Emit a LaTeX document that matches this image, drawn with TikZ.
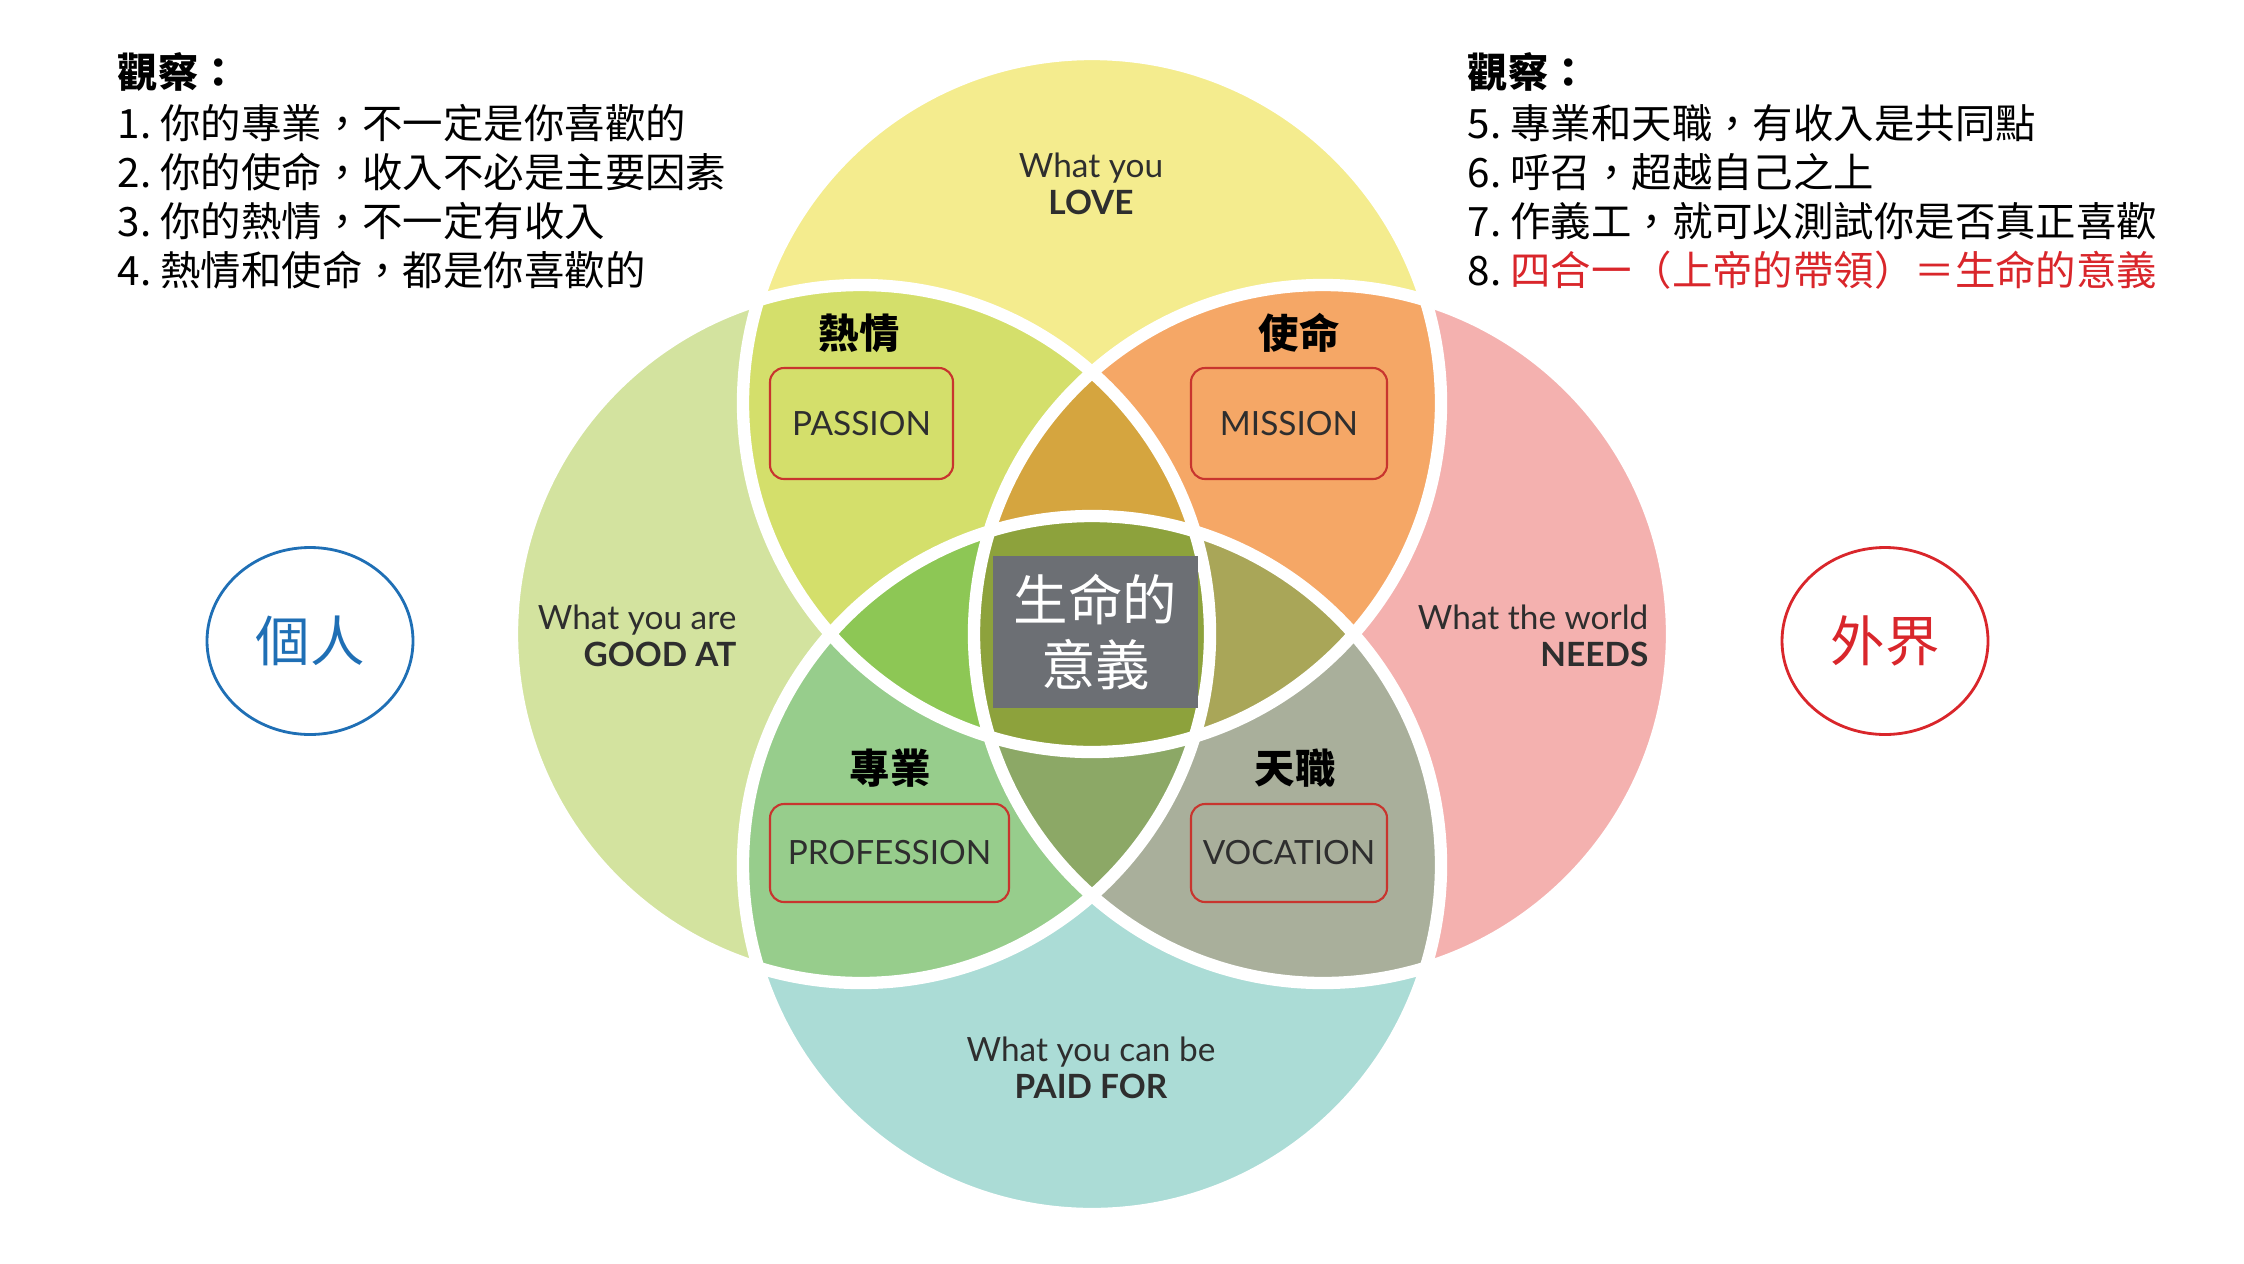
\documentclass[tikz,border=0pt]{standalone}
\usepackage{xcolor}
\usepackage{fontspec}
\usepackage{tikz}
\usetikzlibrary{
  shapes.geometric,
  positioning
}
\setmainfont{Lato}
\newfontfamily\cjk{Noto Sans CJK TC}

\definecolor{ikLove}{HTML}{F4EC8E}
\definecolor{ikGood}{HTML}{D3E39F}
\definecolor{ikNeeds}{HTML}{F4B1AF}
\definecolor{ikPaid}{HTML}{ABDCD6}
\definecolor{ikPassion}{HTML}{D4DF6B}
\definecolor{ikMission}{HTML}{F5A766}
\definecolor{ikProf}{HTML}{97CD8C}
\definecolor{ikVoc}{HTML}{A9AF9B}
\definecolor{ikTopMid}{HTML}{D5A53F}
\definecolor{ikLeftMid}{HTML}{8DC755}
\definecolor{ikRightMid}{HTML}{A9A658}
\definecolor{ikBotMid}{HTML}{8CA866}
\definecolor{ikCore}{HTML}{8DA23C}
\definecolor{ikSlate}{HTML}{6C6F74}
\definecolor{ikInk}{HTML}{2E2E2E}
\definecolor{ikBoxRed}{HTML}{C8352E}
\definecolor{obsRed}{HTML}{D9262B}
\definecolor{selfBlue}{HTML}{1F6FB5}

\tikzset{
  rimline/.style={white, line width=3.5pt},
  circlabel/.style={inner sep=0pt, text=ikInk, font=\fontsize{9.5}{10.5}\selectfont},
  tagbox/.style={draw=ikBoxRed, line width=0.6pt, rounded corners=4pt, inner sep=0pt,
    text=ikInk, font=\fontsize{9.5}{11}\selectfont},
  taghead/.style={inner sep=0pt, font=\cjk\bfseries\fontsize{11.5}{13}\selectfont},
  obsline/.style={anchor=west, inner sep=0pt, font=\cjk\fontsize{11.5}{14}\selectfont},
  obshead/.style={obsline, font=\cjk\bfseries\fontsize{11.5}{14}\selectfont},
  sidering/.style={ellipse, draw, line width=0.8pt, inner sep=0pt,
    minimum width=20.6mm, minimum height=18.7mm, font=\cjk\fontsize{15.5}{18}\selectfont}
}

\begin{document}
\begin{tikzpicture}[x=0.1mm, y=-0.1mm]
  \useasboundingbox (0,0) rectangle (2244,1263);
  \def\R{349}
  \coordinate (cT) at (1092,403);
  \coordinate (cL) at (861,634);
  \coordinate (cR) at (1323,634);
  \coordinate (cB) at (1092,865);

  % the four circles
  \foreach \cc/\col in {cT/ikLove, cL/ikGood, cR/ikNeeds, cB/ikPaid}
    \fill[\col] (\cc) circle[radius=\R];
  % two-way overlaps
  \foreach \a/\b/\col in {cT/cL/ikPassion, cT/cR/ikMission, cL/cB/ikProf, cR/cB/ikVoc}{
    \begin{scope}
      \clip (\a) circle[radius=\R];
      \fill[\col] (\b) circle[radius=\R];
    \end{scope}
  }
  % three-way overlaps
  \foreach \a/\b/\cc/\col in {cT/cL/cR/ikTopMid, cT/cL/cB/ikLeftMid, cT/cR/cB/ikRightMid, cL/cR/cB/ikBotMid}{
    \begin{scope}
      \clip (\a) circle[radius=\R];
      \clip (\b) circle[radius=\R];
      \fill[\col] (\cc) circle[radius=\R];
    \end{scope}
  }
  % centre
  \begin{scope}
    \clip (cT) circle[radius=\R];
    \clip (cL) circle[radius=\R];
    \clip (cR) circle[radius=\R];
    \fill[ikCore] (cB) circle[radius=\R];
  \end{scope}
  \foreach \cc in {cT,cL,cR,cB}
    \draw[rimline] (\cc) circle[radius=\R];

  % circle labels
  \node[circlabel, align=center] (love) at (1091,184) {What you\\\textbf{LOVE}};
  \node[circlabel, align=right, anchor=east] (good) at (737,636) {What you are\\\textbf{GOOD AT}};
  \node[circlabel, align=right, anchor=east] (needs) at (1649,636) {What the world\\\textbf{NEEDS}};
  \node[circlabel, align=center] (paid) at (1091,1068) {What you can be\\\textbf{PAID FOR}};

  % overlap tags
  \node[tagbox, minimum width=18.3mm, minimum height=11.1mm] (passion) at (861.5,423.5) {PASSION};
  \node[tagbox, minimum width=19.6mm, minimum height=11.1mm] (mission) at (1289,423.5) {MISSION};
  \node[tagbox, minimum width=23.9mm, minimum height=9.8mm] (profession) at (889.5,853) {PROFESSION};
  \node[tagbox, minimum width=19.6mm, minimum height=9.8mm] (vocation) at (1289,853) {VOCATION};
  \node[taghead] (passionZh) at (859,333) {熱情};
  \node[taghead] (missionZh) at (1299,333) {使命};
  \node[taghead] (professionZh) at (890,768) {專業};
  \node[taghead] (vocationZh) at (1295,768) {天職};

  % centre
  \node[fill=ikSlate, text=white, inner sep=0pt, minimum width=20.5mm, minimum height=15.2mm,
    align=center, font=\cjk\fontsize{15.5}{18.5}\selectfont] (core) at (1095.5,632) {生命的\\意義};

  % sides
  \node[sidering, draw=selfBlue, text=selfBlue] (self) at (310,641) {個人};
  \node[sidering, draw=obsRed, text=obsRed] (world) at (1885,641) {外界};

  % observations
  \node[obshead] (obsLhead) at (117,72) {觀察：};
  \foreach \y/\t [count=\i] in {123/{1.\ 你的專業，不一定是你喜歡的},
      172/{2.\ 你的使命，收入不必是主要因素},
      221/{3.\ 你的熱情，不一定有收入},
      270/{4.\ 熱情和使命，都是你喜歡的}}
    \node[obsline] (obsL\i) at (117,\y) {\t};
  \node[obshead] (obsRhead) at (1467,72) {觀察：};
  \foreach \y/\t [count=\i] in {123/{5.\ 專業和天職，有收入是共同點},
      172/{6.\ 呼召，超越自己之上},
      221/{7.\ 作義工，就可以測試你是否真正喜歡},
      270/{8.\ \textcolor{obsRed}{四合一（上帝的帶領）＝生命的意義}}}
    \node[obsline] (obsR\i) at (1467,\y) {\t};
\end{tikzpicture}
\end{document}
